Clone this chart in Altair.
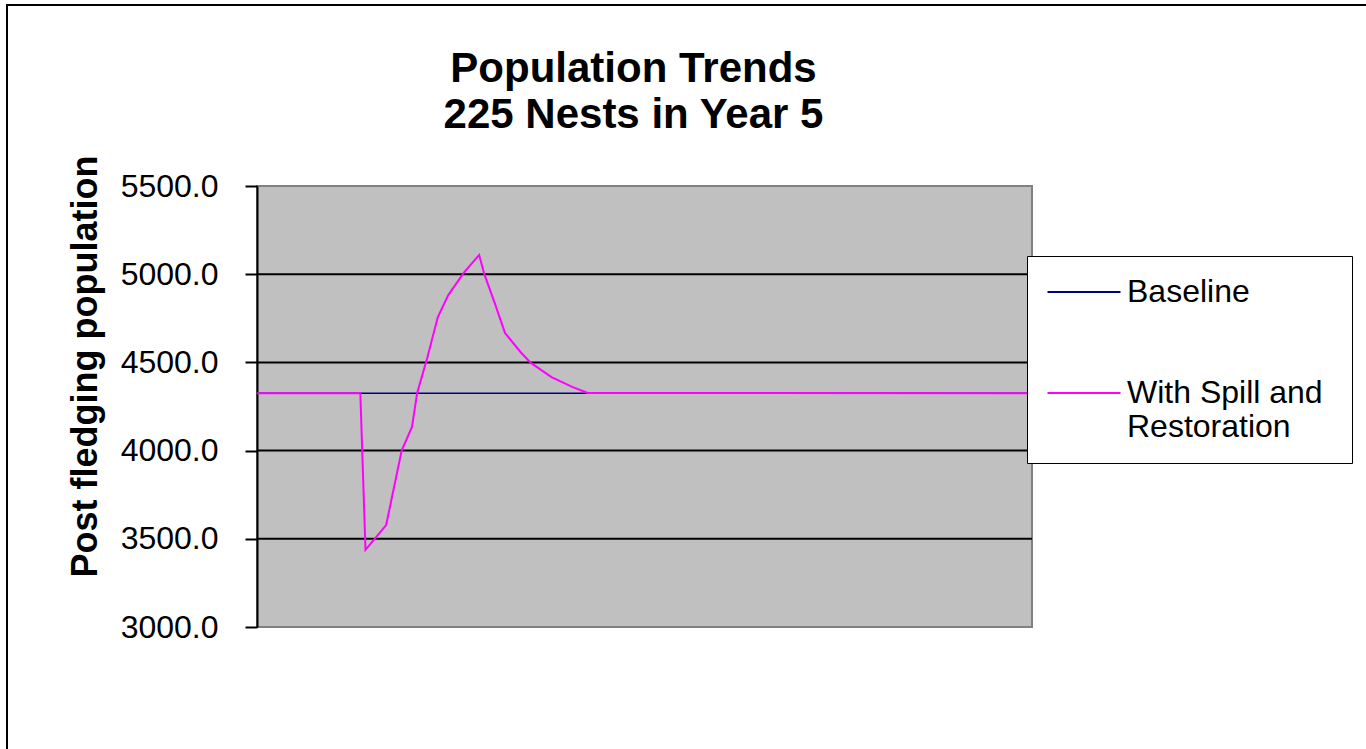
import altair as alt
import pandas as pd

# ---- data ----
years = [0, 20, 21, 25, 28, 30, 31, 33, 35, 37, 40, 43, 44, 46, 48, 51, 53, 57, 61, 64, 150]
spill = [4325, 4325, 3437, 3578, 4000, 4134, 4327, 4530, 4757, 4880, 5007, 5109,
         5000, 4837, 4667, 4559, 4497, 4417, 4361, 4327, 4325]
base_years = [0, 150]
base_vals = [4325, 4325]
series_names = ["Baseline", "With Spill and Restoration"]
series_colors = ["#000080", "#FF00FF"]
y_ticks = [3000, 3500, 4000, 4500, 5000, 5500]
grid_vals = [3500, 4000, 4500, 5000]

df_base = pd.DataFrame({"year": base_years, "value": base_vals, "series": series_names[0]})
df_spill = pd.DataFrame({"year": years, "value": spill, "series": series_names[1]})
df_grid = pd.DataFrame({"g": grid_vals})

FONT = "Liberation Sans"

x_enc = alt.X("year:Q", scale=alt.Scale(domain=[0, 150], nice=False, zero=False), axis=None)
y_scale = alt.Scale(domain=[3000, 5500], nice=False, zero=False)

# custom horizontal stroke symbol: width = 3 * sqrt(size) -> 73 px
SYM_SIZE = 592
color_enc = alt.Color(
    "series:N",
    scale=alt.Scale(domain=series_names, range=series_colors),
    legend=alt.Legend(
        orient="none", legendX=770, legendY=70, title=None,
        symbolType="M-3,0H3", symbolSize=SYM_SIZE, symbolStrokeWidth=2,
        symbolOffset=21,
        labelFont=FONT, labelFontSize=32, labelColor="black", labelOffset=27,
        labelLimit=400, padding=20, fillColor="white", strokeColor="black",
        rowPadding=69,
        labelExpr="datum.label == 'With Spill and Restoration' ? ['With Spill  and', 'Restoration'] : datum.label",
    ),
)

y_axis = alt.Axis(
    values=y_ticks, format=".1f", title="Post fledging population",
    titleFont=FONT, titleFontSize=36, titleFontWeight="bold", titleColor="black",
    titleX=-172, titleY=180, titleAngle=270, titleBaseline="middle", titleAlign="center",
    labelFont=FONT, labelFontSize=32, labelColor="black", labelPadding=27,
    tickSize=12, tickColor="black", tickWidth=2,
    domainColor="black", domainWidth=2, grid=False,
)

frame = alt.Chart(pd.DataFrame({"k": [0]})).mark_rect(
    fill="white", fillOpacity=0, stroke="black", strokeWidth=2
).encode(x=alt.value(-250), x2=alt.value(1130), y=alt.value(-181), y2=alt.value(600))

grid = alt.Chart(df_grid).mark_rule(color="black", strokeWidth=2).encode(
    y=alt.Y("g:Q", scale=y_scale, axis=y_axis)
)

base_line = alt.Chart(df_base).mark_line(strokeWidth=1.5).encode(
    x=x_enc, y=alt.Y("value:Q", scale=y_scale, axis=y_axis), color=color_enc
)
spill_line = alt.Chart(df_spill).mark_line(strokeWidth=2).encode(
    x=x_enc, y=alt.Y("value:Q", scale=y_scale, axis=y_axis), color=color_enc
)

chart = alt.layer(frame, grid, base_line, spill_line).properties(
    width=775, height=441,
    padding={"left": 257, "top": 186, "right": 334, "bottom": 122},
    autosize=alt.AutoSizeParams(type="none"),
    background="white",
    title=alt.TitleParams(
        ["Population Trends", "225 Nests in Year 5"],
        font=FONT, fontSize=42, fontWeight="bold", color="black",
        anchor="middle", frame="group", dx=-11, offset=-133, lineHeight=46,
    ),
).configure_view(fill="#C0C0C0", stroke="#808080", strokeWidth=2)

chart.save("out.html", embed_options={"renderer": "svg", "actions": False})
